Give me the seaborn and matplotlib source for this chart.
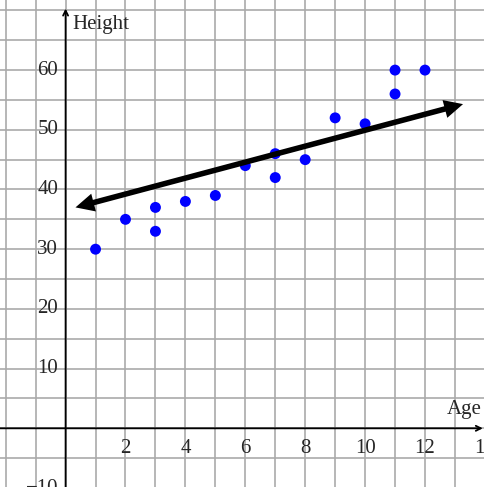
import numpy as np
import matplotlib
matplotlib.use("Agg")
import matplotlib.pyplot as plt
import seaborn as sns

# data
ages = [1, 2, 3, 3, 4, 5, 6, 7, 7, 8, 9, 10, 11, 11, 12]
heights = [30, 35, 37, 33, 38, 39, 44, 46, 42, 45, 52, 51, 60, 56, 60]

# hand drawn trend line (endpoints of the double arrow)
trend_x = [0.33, 13.27]
trend_y = [37.0, 54.3]

x_tick_labels = [2, 4, 6, 8, 10, 12, 14]
y_tick_labels = [-10, 10, 20, 30, 40, 50, 60]

sns.set_style("white")
plt.rcParams["font.family"] = ["Liberation Serif", "DejaVu Serif"]

fig = plt.figure(figsize=(4.84, 4.87), dpi=100)
ax = fig.add_axes([0, 0, 1, 1])
ax.set_xlim(-2.19, 13.97)
ax.set_ylim(-9.83, 71.74)

# grid: every unit on x, every 5 on y
ax.set_xticks(np.arange(-2, 14))
ax.set_yticks(np.arange(-5, 75, 5))
ax.grid(True, color="#aaaaaa", lw=1.2)
ax.set_axisbelow(True)
for s in ["top", "right", "left", "bottom"]:
    ax.spines[s].set_visible(False)
ax.spines["left"].set_position(("data", 0))
ax.spines["bottom"].set_position(("data", 0))
ax.tick_params(direction="inout", length=7, width=1.1, color="black",
               labelbottom=False, labelleft=False)

# axes with arrows
ax.annotate("", xy=(13.93, 0), xytext=(-2.19, 0),
            arrowprops=dict(arrowstyle="->", lw=1.3, color="black",
                            shrinkA=0, shrinkB=0, mutation_scale=9))
ax.annotate("", xy=(0, 70.3), xytext=(0, -9.83),
            arrowprops=dict(arrowstyle="->", lw=1.3, color="black",
                            shrinkA=0, shrinkB=0, mutation_scale=9))

# tick labels
for v in x_tick_labels:
    ax.text(v, -3.3, str(v), ha="center", va="center", fontsize=15, clip_on=False)
for v in y_tick_labels:
    ax.text(-0.25, v, "\u2212" + str(-v) if v < 0 else str(v),
            ha="right", va="center", fontsize=15, clip_on=False)

ax.text(0.22, 67.7, "Height", ha="left", va="center", fontsize=15)
ax.text(13.88, 3.1, "Age", ha="right", va="center", fontsize=15)

sns.scatterplot(x=ages, y=heights, color="#0000ff", s=62, edgecolor="none",
                ax=ax, zorder=3)

# trend line: shaft plus two filled heads
dx = trend_x[1] - trend_x[0]
dy = trend_y[1] - trend_y[0]
f = 0.04
sns.lineplot(x=[trend_x[0] + f * dx, trend_x[1] - f * dx],
             y=[trend_y[0] + f * dy, trend_y[1] - f * dy],
             color="black", lw=4, ax=ax, zorder=4)
head = dict(arrowstyle="-|>,head_length=0.45,head_width=0.22", lw=0,
            facecolor="black", shrinkA=0, shrinkB=0, mutation_scale=30)
ax.annotate("", xy=(trend_x[1], trend_y[1]),
            xytext=(trend_x[1] - 0.1 * dx, trend_y[1] - 0.1 * dy),
            arrowprops=head, zorder=5)
ax.annotate("", xy=(trend_x[0], trend_y[0]),
            xytext=(trend_x[0] + 0.1 * dx, trend_y[0] + 0.1 * dy),
            arrowprops=head, zorder=5)

fig.savefig("out.png", dpi=100)
